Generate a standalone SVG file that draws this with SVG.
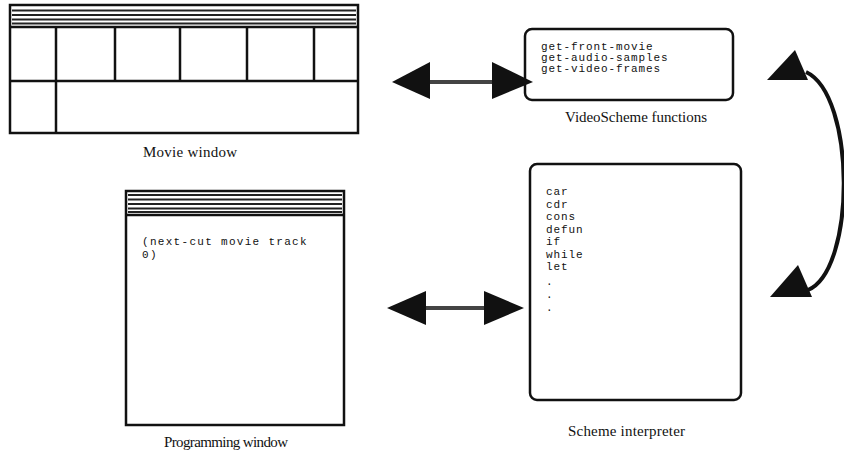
<svg xmlns="http://www.w3.org/2000/svg" width="844" height="455" viewBox="0 0 844 455">
<style>
.frame{fill:#fff;stroke:#111;stroke-width:2.5}
.ln{stroke:#111;stroke-width:2.5;fill:none}
.stripe{stroke:#222;stroke-width:2;fill:none}
.mono{font-family:"Liberation Mono",monospace;font-size:11px;fill:#111;letter-spacing:0.9px}
.cap{font-family:"Liberation Serif",serif;font-size:15px;fill:#111}
.shaft{stroke:#444;stroke-width:4;fill:none}
.head{fill:#111}
</style>
<rect width="844" height="455" fill="#fff"/>
<g id="movie-window">
<rect class="frame" x="10" y="5" width="348" height="128"/>
<line class="ln" x1="10" y1="27" x2="358" y2="27"/>
<line class="stripe" x1="12" y1="10.5" x2="356" y2="10.5"/>
<line class="stripe" x1="12" y1="15" x2="356" y2="15"/>
<line class="stripe" x1="12" y1="19.5" x2="356" y2="19.5"/>
<line class="stripe" x1="12" y1="23.5" x2="356" y2="23.5"/>
<line class="ln" x1="10" y1="81" x2="358" y2="81"/>
<line class="ln" x1="56" y1="27" x2="56" y2="133"/>
<line class="ln" x1="115" y1="27" x2="115" y2="81"/>
<line class="ln" x1="180" y1="27" x2="180" y2="81"/>
<line class="ln" x1="247" y1="27" x2="247" y2="81"/>
<line class="ln" x1="314" y1="27" x2="314" y2="81"/>
<text class="cap" x="143" y="157" textLength="94">Movie window</text>
</g>
<g id="videoscheme-functions">
<rect class="frame" x="525" y="29" width="208" height="71" rx="7"/>
<text class="mono" x="541" y="50">get-front-movie</text>
<text class="mono" x="541" y="61">get-audio-samples</text>
<text class="mono" x="541" y="72">get-video-frames</text>
<text class="cap" x="565" y="122" textLength="142">VideoScheme functions</text>
</g>
<g id="programming-window">
<rect class="frame" x="126" y="191" width="218" height="234"/>
<line class="ln" x1="126" y1="215" x2="344" y2="215"/>
<line class="stripe" x1="128" y1="195" x2="342" y2="195"/>
<line class="stripe" x1="128" y1="199.5" x2="342" y2="199.5"/>
<line class="stripe" x1="128" y1="204" x2="342" y2="204"/>
<line class="stripe" x1="128" y1="208.5" x2="342" y2="208.5"/>
<line class="stripe" x1="128" y1="212" x2="342" y2="212"/>
<text class="mono" x="142" y="245" style="letter-spacing:1.3px">(next-cut movie track</text>
<text class="mono" x="142" y="258" style="letter-spacing:1.3px">0)</text>
<text class="cap" x="164" y="447" textLength="124">Programming window</text>
</g>
<g id="scheme-interpreter">
<rect class="frame" x="530" y="164" width="211" height="236" rx="7"/>
<text class="mono" x="546" y="195">car</text>
<text class="mono" x="546" y="207.5">cdr</text>
<text class="mono" x="546" y="220">cons</text>
<text class="mono" x="546" y="232.5">defun</text>
<text class="mono" x="546" y="245">if</text>
<text class="mono" x="546" y="257.5">while</text>
<text class="mono" x="546" y="270">let</text>
<text class="mono" x="546" y="285">.</text>
<text class="mono" x="546" y="298">.</text>
<text class="mono" x="546" y="311">.</text>
<text class="cap" x="568" y="436" textLength="117">Scheme interpreter</text>
</g>
<g id="connectors">
<line class="shaft" x1="425" y1="82" x2="495" y2="82"/>
<polygon class="head" points="392,82 430,62 430,99"/>
<polygon class="head" points="533,82 492,62 492,99"/>
<line class="shaft" x1="420" y1="308" x2="490" y2="308"/>
<polygon class="head" points="387,308 426,291 426,325"/>
<polygon class="head" points="524,308 484,291 484,325"/>
<path class="ln" style="stroke-width:4" d="M806,72 C856,95 856,270 808,290"/>
<polygon class="head" points="795,50 767,80 808,80"/>
<polygon class="head" points="798,265 770,297 812,297"/>
</g>
</svg>
